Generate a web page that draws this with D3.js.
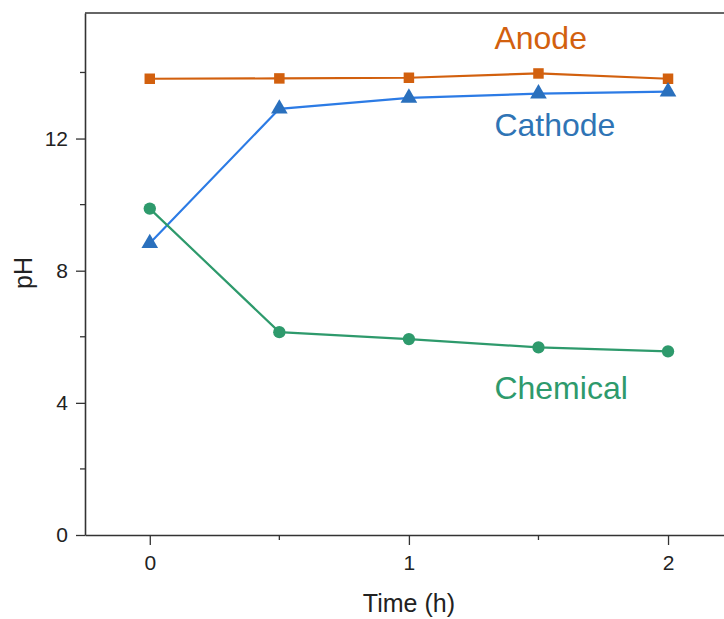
<!DOCTYPE html>
<html>
<head>
<meta charset="utf-8">
<script src="https://cdn.jsdelivr.net/npm/d3@7"></script>
<style>
body { margin: 0; background: #fff; }
text { font-family: "Liberation Sans", Arial, sans-serif; }
</style>
</head>
<body>
<div id="chart"></div>
<script>
var times = [0, 0.5, 1, 1.5, 2];
var anode = [13.81, 13.82, 13.84, 13.97, 13.81];
var cathode = [8.83, 12.9, 13.23, 13.36, 13.42];
var chemical = [9.88, 6.14, 5.93, 5.68, 5.56];
var xTicks = [0, 1, 2];
var xMinor = [0.5, 1.5];
var yTicks = [0, 4, 8, 12];
var yMinor = [2, 6, 10, 14];

var svgWidth = 724;
var svgHeight = 619;
var margin = { top: 13, right: 0, bottom: 84, left: 85 };
var width = svgWidth - margin.left - margin.right;
var height = svgHeight - margin.top - margin.bottom;

var svg = d3.select("#chart")
    .append("svg")
    .attr("width", svgWidth)
    .attr("height", svgHeight);

var chartGroup = svg.append("g")
    .attr("transform", `translate(${margin.left}, ${margin.top})`);

var x = d3.scaleLinear().domain([-0.25, 2.216]).range([0, width]);
var y = d3.scaleLinear().domain([0, 15.8]).range([height, 0]);

// frame (top line only, right side is cut off)
chartGroup.append("line")
    .attr("x1", 0).attr("x2", width).attr("y1", 0).attr("y2", 0)
    .attr("stroke", "#333").attr("stroke-width", 1.6);

var bottomAxis = d3.axisBottom(x).tickValues(xTicks).tickFormat(d3.format("d"))
    .tickSize(10).tickSizeOuter(0).tickPadding(10);
var leftAxis = d3.axisLeft(y).tickValues(yTicks).tickFormat(d3.format("d"))
    .tickSize(9).tickSizeOuter(0).tickPadding(8);

var xg = chartGroup.append("g")
    .attr("transform", `translate(0, ${height})`)
    .call(bottomAxis);
xg.append("g").selectAll("line").data(xMinor).enter().append("line")
    .attr("x1", d => x(d)).attr("x2", d => x(d)).attr("y1", 0).attr("y2", 5)
    .attr("stroke", "#333").attr("stroke-width", 1.3);

var yg = chartGroup.append("g").call(leftAxis);
yg.append("g").selectAll("line").data(yMinor).enter().append("line")
    .attr("y1", d => y(d)).attr("y2", d => y(d)).attr("x1", 0).attr("x2", -5)
    .attr("stroke", "#333").attr("stroke-width", 1.3);

[xg, yg].forEach(function (g) {
    g.select(".domain").attr("stroke", "#333").attr("stroke-width", 1.6);
    g.selectAll(".tick line").attr("stroke", "#333").attr("stroke-width", 1.3);
    g.selectAll(".tick text").attr("font-size", "21px").attr("fill", "#222");
});

var line = d3.line().x(d => x(d[0])).y(d => y(d[1]));

function series(vals, lineColor, markColor, shape, size) {
    var pts = times.map((t, i) => [t, vals[i]]);
    chartGroup.append("path")
        .datum(pts)
        .attr("fill", "none")
        .attr("stroke", lineColor)
        .attr("stroke-width", 2.2)
        .attr("d", line);
    chartGroup.append("g").selectAll("path")
        .data(pts).enter().append("path")
        .attr("transform", d => `translate(${x(d[0])}, ${y(d[1])})`)
        .attr("d", d3.symbol().type(shape).size(size))
        .attr("fill", markColor);
}

series(anode, "#d2600e", "#d2600e", d3.symbolSquare, 110);
series(cathode, "#2c7be5", "#2a70bd", d3.symbolTriangle, 120);
series(chemical, "#2e9a6c", "#2e9a6c", d3.symbolCircle, 120);

var labels = [
    { text: "Anode", t: 1.33, v: 14.7, color: "#d2600e" },
    { text: "Cathode", t: 1.33, v: 12.07, color: "#2f74b5" },
    { text: "Chemical", t: 1.33, v: 4.11, color: "#2e9a6c" }
];
chartGroup.append("g").selectAll("text")
    .data(labels).enter().append("text")
    .attr("x", d => x(d.t))
    .attr("y", d => y(d.v))
    .attr("font-size", "32px")
    .attr("fill", d => d.color)
    .text(d => d.text);

chartGroup.append("text")
    .attr("transform", "rotate(-90)")
    .attr("x", -(273 - margin.top))
    .attr("y", 32 - margin.left)
    .attr("text-anchor", "middle")
    .attr("font-size", "25px")
    .attr("fill", "#222")
    .text("pH");

chartGroup.append("text")
    .attr("x", x(1))
    .attr("y", height + 77)
    .attr("text-anchor", "middle")
    .attr("font-size", "25px")
    .attr("fill", "#222")
    .text("Time (h)");
</script>
</body>
</html>
